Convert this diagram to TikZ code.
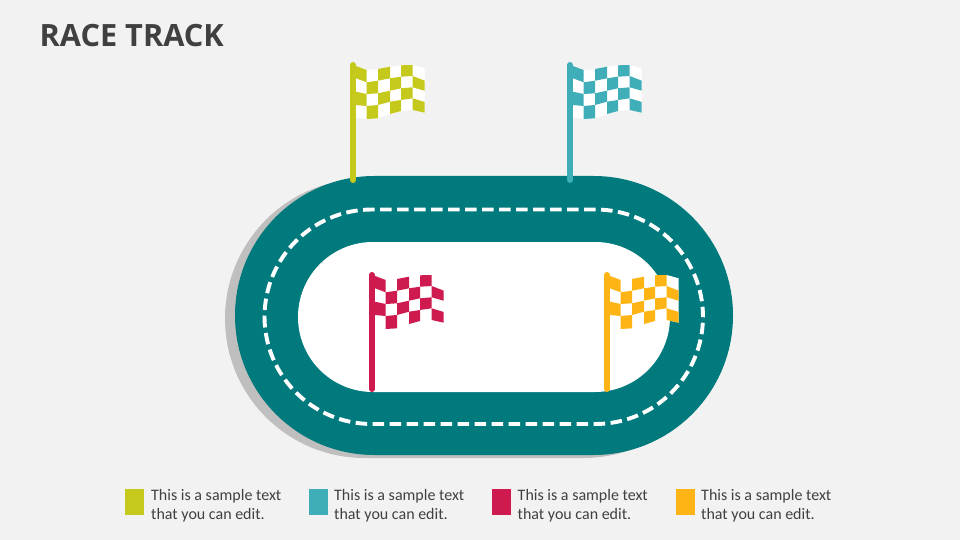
\documentclass[tikz,border=0pt]{standalone}
\usepackage{fontspec}
\setmainfont{Carlito}
\newfontfamily\titlefont{Open Sans}
\definecolor{bgc}{HTML}{F2F2F2}
\definecolor{trackc}{HTML}{007A7C}
\definecolor{shadowc}{HTML}{BFBFBF}
\definecolor{limec}{HTML}{C4C91C}
\definecolor{aquac}{HTML}{40AEB8}
\definecolor{redc}{HTML}{CE1A4E}
\definecolor{orangec}{HTML}{FDB414}
\definecolor{textc}{HTML}{404040}
\tikzset{
  legendbox/.style={rectangle,inner sep=0pt,minimum width=18.5pt,minimum height=26pt,anchor=north west},
  legendtext/.style={inner sep=0pt,anchor=north west,align=left,text=textc,font=\fontsize{16}{18.8}\selectfont},
  lane/.style={draw=white,line width=3.9pt,dash pattern=on 11.5pt off 5.5pt},
}
\newcommand{\flagpic}[5]{% name, x, ytop, ybottom, colour
  \begin{scope}[shift={(#2,#3)}]
    \foreach \c/\px/\ya/\yb/\yc/\yd/\ye in {
      0/6/4/16.3/29.7/43/55.7,
      1/16.7/8/20.3/32/44/57,
      2/28/7/18.7/31.3/43/56.3,
      3/40/4.7/16.3/28.7/39.7/52,
      4/51/3.3/14.7/26.3/38/49,
      5/62.7/3/14/25.3/36.3/48,
      6/74.7/6.3/18.7/28.7/40/50.7}{
      \coordinate (#1-\c-0) at (\px,\ya);
      \coordinate (#1-\c-1) at (\px,\yb);
      \coordinate (#1-\c-2) at (\px,\yc);
      \coordinate (#1-\c-3) at (\px,\yd);
      \coordinate (#1-\c-4) at (\px,\ye);
    }
    \fill[white] (#1-0-0) -- (#1-1-0) -- (#1-2-0) -- (#1-3-0) -- (#1-4-0) -- (#1-5-0) -- (#1-6-0)
      -- (#1-6-4) -- (#1-5-4) -- (#1-4-4) -- (#1-3-4) -- (#1-2-4) -- (#1-1-4) -- (#1-0-4) -- cycle;
    \foreach \c in {0,...,5}{
      \foreach \r in {0,...,3}{
        \pgfmathtruncatemacro{\odd}{mod(\c+\r,2)}
        \ifnum\odd=0
          \pgfmathtruncatemacro{\cn}{\c+1}
          \pgfmathtruncatemacro{\rn}{\r+1}
          \fill[#5] (#1-\c-\r) -- (#1-\cn-\r) -- (#1-\cn-\rn) -- (#1-\c-\rn) -- cycle;
        \fi
      }
    }
    \coordinate (#1-top) at (3,3);
    \coordinate (#1-bot) at (3,#4-#3-3);
    \draw[#5,line width=6pt,line cap=round] (#1-top) -- (#1-bot);
  \end{scope}
}
\begin{document}
\begin{tikzpicture}[x=1pt,y=-1pt]
  \useasboundingbox (0,0) rectangle (960,540);
  \fill[bgc] (0,0) rectangle (960,540);
  \node[inner sep=0pt,anchor=base west,text=textc,font=\titlefont\bfseries\fontsize{30.7}{36}\selectfont] (title) at (39.5,46.5) {RACE TRACK};
  % track
  \fill[shadowc,rounded corners=139.5pt] (225,179) rectangle (723,458);
  \fill[trackc,rounded corners=139.5pt] (235,176) rectangle (733,455);
  \fill[white,rounded corners=75pt] (298,242) rectangle (670,392);
  \draw[lane,rounded corners=107.5pt] (264.5,209.5) rectangle (703,424);
  % flags
  \flagpic{fa}{350}{62}{183}{limec}
  \flagpic{fb}{567}{62}{183}{aquac}
  \flagpic{fc}{369}{272}{392}{redc}
  \flagpic{fd}{604}{272}{392}{orangec}
  % legend
  \node[legendbox,fill=limec] (la) at (125,489) {};
  \node[legendtext] (ta) at (151,489) {This is a sample text\\that you can edit.};
  \node[legendbox,fill=aquac] (lb) at (309,489) {};
  \node[legendtext] (tb) at (334,489) {This is a sample text\\that you can edit.};
  \node[legendbox,fill=redc] (lc) at (492,489) {};
  \node[legendtext] (tc) at (517.5,489) {This is a sample text\\that you can edit.};
  \node[legendbox,fill=orangec] (ld) at (676,489) {};
  \node[legendtext] (td) at (701,489) {This is a sample text\\that you can edit.};
\end{tikzpicture}
\end{document}
